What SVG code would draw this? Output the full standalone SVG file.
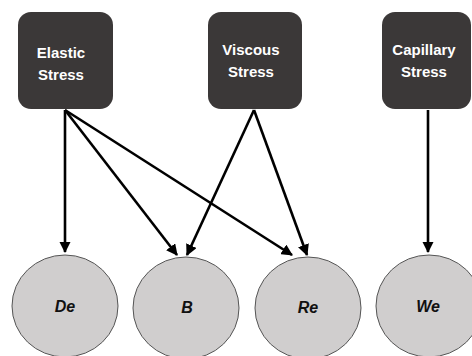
<svg xmlns="http://www.w3.org/2000/svg" width="472" height="356" viewBox="0 0 472 356">
<style>
.box{fill:#3b3838;}
.bt{fill:#ffffff;font-family:"Liberation Sans",Arial,sans-serif;font-weight:bold;font-size:15px;text-anchor:middle;}
.circ{fill:#d0cece;stroke:#555555;stroke-width:1;}
.ct{fill:#111111;font-family:"Liberation Sans",Arial,sans-serif;font-weight:bold;font-style:italic;font-size:16px;text-anchor:middle;}
.edge{stroke:#000000;stroke-width:2.6;fill:none;marker-end:url(#ah);}
</style>
<defs>
<marker id="ah" markerWidth="4.4" markerHeight="4.4" refX="4" refY="2.2" orient="auto" markerUnits="strokeWidth">
<path d="M0,0 L4.4,2.2 L0,4.4 Z" fill="#000000"/>
</marker>
</defs>
<rect width="472" height="356" fill="#ffffff"/>
<g id="elastic">
<rect class="box" x="18" y="12" width="95" height="97" rx="13"/>
<text class="bt" x="61" y="58">Elastic</text>
<text class="bt" x="61" y="80">Stress</text>
</g>
<g id="viscous">
<rect class="box" x="208" y="12" width="94" height="97" rx="13"/>
<text class="bt" x="251" y="55">Viscous</text>
<text class="bt" x="251" y="77">Stress</text>
</g>
<g id="capillary">
<rect class="box" x="382" y="12" width="89" height="97" rx="13"/>
<text class="bt" x="424" y="55">Capillary</text>
<text class="bt" x="424" y="77">Stress</text>
</g>
<g id="connectors">
<line class="edge" x1="65" y1="110" x2="65" y2="252"/>
<line class="edge" x1="65" y1="110" x2="177" y2="255"/>
<line class="edge" x1="65" y1="110" x2="292" y2="255"/>
<line class="edge" x1="254" y1="110" x2="187" y2="255"/>
<line class="edge" x1="254" y1="110" x2="307" y2="255"/>
<line class="edge" x1="428" y1="110" x2="428" y2="252"/>
</g>
<g id="de">
<ellipse class="circ" cx="65" cy="306" rx="53" ry="51"/>
<text class="ct" x="65" y="312">De</text>
</g>
<g id="b">
<ellipse class="circ" cx="186" cy="308" rx="53" ry="51"/>
<text class="ct" x="187" y="313">B</text>
</g>
<g id="re">
<ellipse class="circ" cx="308" cy="308" rx="53" ry="51"/>
<text class="ct" x="308" y="313">Re</text>
</g>
<g id="we">
<ellipse class="circ" cx="429" cy="306" rx="53" ry="51"/>
<text class="ct" x="428" y="312">We</text>
</g>
</svg>
